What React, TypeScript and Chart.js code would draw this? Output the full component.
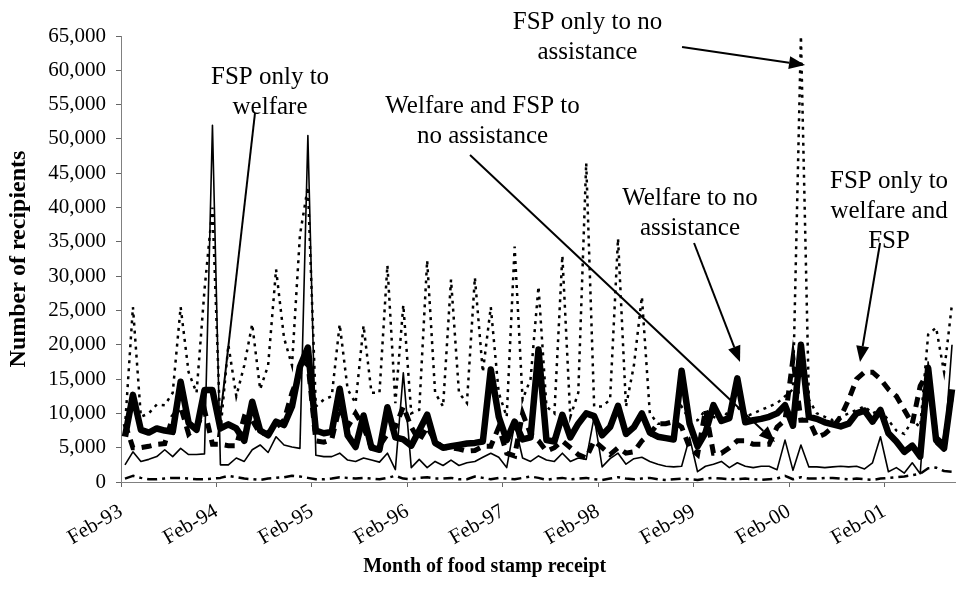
import React, { useEffect, useRef } from "react";
import { Chart, registerables } from "chart.js";

Chart.register(...registerables);

const FONT = "'Liberation Serif', 'Times New Roman', serif";

// Monthly categories Feb-93 .. Oct-01 (105 months); a tick label every 12 months
const monthCount = 105;
const monthsPerTick = 12;
const tickLabels = ["Feb-93", "Feb-94", "Feb-95", "Feb-96", "Feb-97", "Feb-98", "Feb-99", "Feb-00", "Feb-01"];
const yMax = 65000;
const yStep = 5000;

// Values in thousands of recipients
const welfareToNone = [
  6.6, 12.7, 7.6, 7.2, 7.8, 7.5, 7.3, 14.6, 8.6, 7.6, 13.4, 13.4,
  7.8, 8.4, 7.8, 6.0, 11.7, 7.5, 6.8, 8.8, 8.3, 11.0, 16.8, 19.6,
  7.5, 7.1, 7.3, 13.6, 6.8, 5.1, 9.7, 5.0, 4.7, 10.9, 6.5, 6.2,
  5.3, 7.5, 9.8, 5.7, 5.0, 5.2, 5.4, 5.6, 5.7, 5.9, 16.4, 9.5,
  6.1, 8.8, 6.2, 6.5, 19.3, 6.1, 5.9, 9.8, 6.5, 8.5, 10.0, 9.6,
  6.8, 8.0, 11.1, 7.0, 8.0, 10.0, 7.2, 6.6, 6.4, 6.2, 16.2, 8.5,
  5.2, 7.2, 11.2, 8.9, 9.3, 15.1, 8.7, 9.0, 9.2, 9.5, 10.0, 11.2,
  8.2, 20.0, 9.5, 9.2, 8.7, 8.4, 8.1, 8.5, 10.0, 10.4, 8.8, 10.5,
  7.1, 5.9, 4.4, 5.3, 3.7, 16.6, 6.1, 4.9, 13.5,
];

const welfareFspToNone = [
  8.5, 5.0, 5.0, 5.2, 5.5, 5.6, 9.5, 11.0, 7.0, 8.0, 10.5, 5.5,
  5.5, 5.3, 5.3, 9.5, 9.0, 7.0, 7.2, 8.0, 9.0, 13.0, 16.0, 17.5,
  6.0, 5.8, 6.2, 11.0, 8.0, 10.0, 8.0, 5.0, 5.2, 7.0, 8.0, 11.0,
  8.0, 6.0, 8.0, 6.0, 5.0, 5.0, 4.8, 4.5, 4.6, 5.2, 5.2, 8.0,
  4.2, 3.8, 10.0, 7.0, 6.0, 4.5, 5.0, 6.0, 5.0, 4.0, 3.5, 6.0,
  5.0, 4.0, 5.0, 4.2, 4.4, 6.0, 7.0, 8.5, 8.5, 8.8, 8.0, 5.0,
  4.0, 10.5, 4.2, 4.2, 5.0, 6.0, 6.0, 5.5, 5.5, 5.5, 8.0, 9.0,
  18.0, 9.0, 9.0, 6.5, 7.0, 8.0, 9.5, 12.0, 15.0, 16.0, 16.0, 15.0,
  13.5, 12.5, 10.5, 8.5, 14.0, 16.0, 6.5, 5.5, 13.0,
];

const fspToWelfare = [
  2.5, 4.4, 3.0, 3.3, 3.7, 4.7, 3.7, 4.9, 4.0, 4.0, 4.1, 52.0,
  2.5, 2.5, 3.5, 3.0, 4.7, 5.4, 4.3, 6.6, 5.4, 5.1, 4.9, 50.5,
  3.9, 3.7, 3.7, 4.2, 3.2, 3.0, 3.5, 3.2, 2.9, 4.2, 1.8, 15.9,
  2.1, 3.3, 2.1, 3.0, 2.4, 3.2, 2.4, 2.8, 3.0, 3.6, 4.2, 3.6,
  2.1, 8.5, 3.5, 3.0, 3.8, 3.2, 3.0, 4.2, 3.0, 3.5, 3.3, 9.5,
  2.2, 3.4, 4.2, 2.6, 3.4, 3.6, 3.0, 2.6, 2.3, 2.2, 2.3, 6.5,
  1.5, 2.3, 2.6, 3.0, 2.1, 2.8, 2.3, 2.1, 2.3, 2.3, 1.8, 6.1,
  1.7, 5.4, 2.2, 2.2, 2.1, 2.2, 2.3, 2.2, 2.3, 1.9, 2.8, 6.6,
  1.5, 2.1, 1.3, 2.8, 1.2, 17.5, 5.5, 4.5, 20.0,
];

const fspToWelfareFsp = [
  0.5, 0.9, 0.6, 0.4, 0.4, 0.5, 0.6, 0.6, 0.5, 0.4, 0.4, 0.5,
  0.6, 0.9, 0.7, 0.5, 0.4, 0.3, 0.5, 0.6, 0.7, 0.9, 0.8, 0.6,
  0.4, 0.4, 0.5, 0.7, 0.6, 0.5, 0.6, 0.5, 0.4, 0.6, 0.9, 0.5,
  0.4, 0.6, 0.7, 0.5, 0.5, 0.6, 0.4, 0.4, 0.8, 0.6, 0.4, 0.6,
  0.5, 0.4, 0.6, 0.8, 0.6, 0.3, 0.5, 0.6, 0.4, 0.5, 0.6, 0.4,
  0.3, 0.5, 0.7, 0.5, 0.4, 0.5, 0.6, 0.4, 0.3, 0.4, 0.5, 0.4,
  0.3, 0.5, 0.6, 0.5, 0.4, 0.4, 0.5, 0.4, 0.3, 0.4, 0.5, 0.9,
  0.4, 0.7, 0.5, 0.5, 0.6, 0.6, 0.5, 0.4, 0.5, 0.4, 0.3, 0.5,
  0.6, 0.7, 0.8, 1.0, 1.2, 2.0, 2.1, 1.6, 1.5,
];

const fspToNone = [
  8.0, 25.5, 9.5, 10.0, 11.3, 11.2, 13.0, 25.5, 16.0, 13.0, 28.0, 40.0,
  7.5, 20.0, 12.5, 17.0, 23.0, 13.5, 17.0, 31.0, 21.0, 17.0, 36.0, 43.0,
  11.0, 12.0, 12.5, 23.0, 13.5, 11.5, 22.8, 13.0, 13.0, 31.6, 11.5, 25.8,
  10.0, 10.5, 32.3, 13.0, 11.0, 29.5, 13.0, 11.5, 29.8, 16.0, 25.5, 13.0,
  9.5, 34.3, 12.0, 15.0, 28.5, 11.0, 10.0, 33.0, 9.5, 13.0, 46.5, 11.0,
  11.0, 12.0, 35.5, 11.0, 17.0, 27.0, 10.0, 8.5, 8.5, 8.8, 11.0, 9.0,
  9.0, 10.5, 9.5, 9.0, 10.5, 11.0, 9.5, 10.0, 10.5, 11.0, 11.5, 12.5,
  13.5, 65.0, 12.0, 10.0, 9.5, 9.0, 9.5, 10.0, 10.5, 11.0, 10.0, 10.5,
  9.0, 7.5, 7.0, 9.0, 8.0, 21.5, 22.5, 16.0, 26.0,
];

// Annotations: text block centred at [month index, recipients]; arrows from -> to
const notes = [
  { lines: ["FSP only to", "welfare"], at: [18.24, 56839] },
  { lines: ["Welfare and FSP to", "no assistance"], at: [44.96, 52539] },
  { lines: ["FSP only to no", "assistance"], at: [58.16, 64854] },
  { lines: ["Welfare to no", "assistance"], at: [71.05, 39204] },
  { lines: ["FSP only to", "welfare and", "FSP"], at: [96.08, 39496] },
];
const arrows = [
  { from: [16.35, 53778], to: [11.7, 6558], head: false },
  { from: [43.39, 47657], to: [81.74, 5830], head: true },
  { from: [70.05, 63397], to: [85.52, 60774], head: true },
  { from: [71.56, 34832], to: [77.34, 17489], head: true },
  { from: [94.95, 34832], to: [92.43, 17489], head: true },
];

const toPoints = (arr: number[]) => arr.map((v, i) => ({ x: i, y: v * 1000 }));

const notesPlugin = {
  id: "notes",
  afterDatasetsDraw(chart: any) {
    const { ctx, scales } = chart;
    const xs = scales.x;
    const ys = scales.y;
    ctx.save();
    ctx.fillStyle = "#000";
    ctx.strokeStyle = "#000";
    ctx.font = `25px ${FONT}`;
    ctx.textAlign = "center";
    ctx.textBaseline = "middle";
    const lh = 30;
    for (const n of notes) {
      const cx = xs.getPixelForValue(n.at[0]);
      const cy = ys.getPixelForValue(n.at[1]);
      const k = n.lines.length;
      n.lines.forEach((t, j) => ctx.fillText(t, cx, cy + (j - (k - 1) / 2) * lh));
    }
    ctx.lineWidth = 2;
    for (const a of arrows) {
      const x1 = xs.getPixelForValue(a.from[0]);
      const y1 = ys.getPixelForValue(a.from[1]);
      const x2 = xs.getPixelForValue(a.to[0]);
      const y2 = ys.getPixelForValue(a.to[1]);
      const ang = Math.atan2(y2 - y1, x2 - x1);
      const len = 16;
      const hw = 6.5;
      const bx = x2 - Math.cos(ang) * len;
      const by = y2 - Math.sin(ang) * len;
      ctx.beginPath();
      ctx.moveTo(x1, y1);
      ctx.lineTo(a.head ? bx : x2, a.head ? by : y2);
      ctx.stroke();
      if (a.head) {
        ctx.beginPath();
        ctx.moveTo(x2, y2);
        ctx.lineTo(bx - Math.sin(ang) * hw, by + Math.cos(ang) * hw);
        ctx.lineTo(bx + Math.sin(ang) * hw, by - Math.cos(ang) * hw);
        ctx.closePath();
        ctx.fill();
      }
    }
    // x-axis title
    ctx.font = `bold 20px ${FONT}`;
    ctx.fillText("Month of food stamp receipt", chart.width * 0.507, chart.height - 36);
    ctx.restore();
  },
};

export default function App() {
  const ref = useRef<HTMLCanvasElement | null>(null);
  useEffect(() => {
    document.body.style.margin = "0";
    const canvas = ref.current;
    if (!canvas) return;
    const common = { pointRadius: 0, tension: 0, fill: false, borderColor: "#000", borderJoinStyle: "round" as const };
    const chart = new Chart(canvas, {
      type: "line",
      data: {
        datasets: [
          { label: "Welfare to no assistance", data: toPoints(welfareToNone), ...common, borderWidth: 6.5 },
          { label: "Welfare and FSP to no assistance", data: toPoints(welfareFspToNone), ...common, borderWidth: 5, borderDash: [10, 7], borderJoinStyle: "miter" },
          { label: "FSP only to welfare", data: toPoints(fspToWelfare), ...common, borderWidth: 1.6 },
          { label: "FSP only to welfare and FSP", data: toPoints(fspToWelfareFsp), ...common, borderWidth: 2.5, borderDash: [10, 5, 3, 5] },
          { label: "FSP only to no assistance", data: toPoints(fspToNone), ...common, borderWidth: 2.5, borderDash: [3, 5], borderJoinStyle: "miter" },
        ],
      },
      options: {
        animation: false,
        responsive: false,
        maintainAspectRatio: false,
        layout: { padding: { top: 36, right: 0, left: 0, bottom: 0 } },
        plugins: { legend: { display: false }, tooltip: { enabled: false }, title: { display: false } },
        scales: {
          x: {
            type: "linear",
            min: -0.5,
            max: monthCount - 0.5,
            afterBuildTicks: (scale: any) => {
              scale.ticks = tickLabels.map((_, k) => ({ value: k * monthsPerTick - 0.5 }));
            },
            afterFit: (scale: any) => {
              scale.height = 121;
            },
            ticks: {
              autoSkip: false,
              minRotation: 30,
              maxRotation: 30,
              padding: 12,
              color: "#000",
              font: { family: FONT, size: 21 },
              callback: (_v: any, idx: number) => tickLabels[idx],
            },
            grid: { drawOnChartArea: false, tickLength: 5, color: "#666", tickColor: "#666" },
            border: { color: "#808080", width: 1 },
          },
          y: {
            min: 0,
            max: yMax,
            afterFit: (scale: any) => {
              scale.width = 121;
            },
            ticks: {
              stepSize: yStep,
              padding: 10,
              color: "#000",
              font: { family: FONT, size: 21 },
              callback: (v: any) => Number(v).toLocaleString("en-US"),
            },
            grid: { drawOnChartArea: false, tickLength: 5, color: "#666", tickColor: "#666" },
            border: { color: "#808080", width: 1 },
            title: {
              display: true,
              text: "Number of recipients",
              color: "#000",
              font: { family: FONT, size: 24, weight: "bold" },
              padding: { top: 4, bottom: 0 },
            },
          },
        },
      },
      plugins: [notesPlugin],
    });
    return () => chart.destroy();
  }, []);
  return (
    <div style={{ width: 956, height: 603, background: "#fff" }}>
      <canvas ref={ref} width={956} height={603} style={{ display: "block" }} />
    </div>
  );
}
